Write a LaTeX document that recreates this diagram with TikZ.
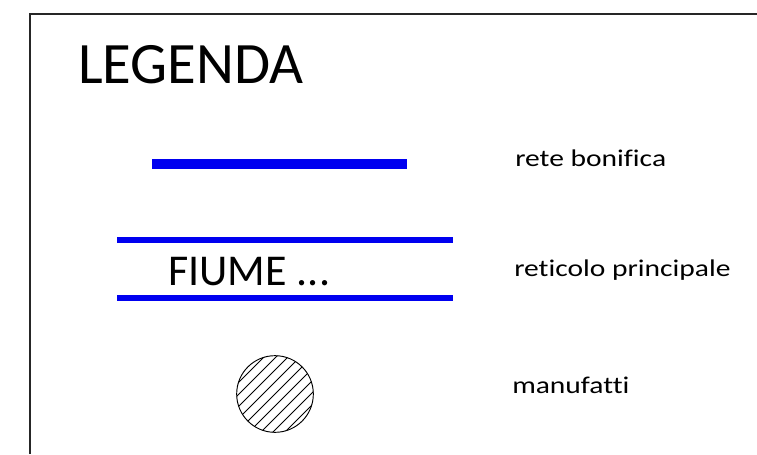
\documentclass[tikz,border=0pt]{standalone}
\usepackage{fontspec}
\setmainfont{Carlito}
\newfontfamily\labelfont[FakeStretch=1.23, Ligatures=NoCommon]{Carlito}
\usepackage{tikz}
\definecolor{bluline}{HTML}{0000F0}
\tikzstyle{frameline} = [line width=0.8pt, black!85]
\tikzstyle{legtext} = [anchor=base west, inner sep=0pt, font=\labelfont\fontsize{18}{20}\selectfont]

\begin{document}
\begin{tikzpicture}[x=0.75pt, y=-0.75pt,
                    bonifica/.style={bluline, line width=7.2pt},
                    fiume/.style={bluline, line width=4.2pt},
                    hatch/.style={line width=0.6pt}]

    \useasboundingbox (0,0) rectangle (757,454);
    % frame
    \draw[frameline] (30,454) -- (30,14) -- (757,14);

    % title
    \node[anchor=base west, inner sep=0pt, font=\fontsize{44}{50}\selectfont] (title) at (78,83) {LEGENDA};

    % rete bonifica
    \draw[bonifica] (152,164) -- (407,164);
    \node[legtext] (lbon) at (515,166.5) {rete bonifica};

    % reticolo principale
    \draw[fiume] (117,240) -- (453,240);
    \draw[fiume] (117,298) -- (453,298);
    \node[anchor=base west, inner sep=0pt, font=\fontsize{33}{38}\selectfont] (fiume) at (168,285) {FIUME ...};
    \node[legtext] (lret) at (514,276.5) {reticolo principale};

    % manufatti
    \node[circle, draw, line width=0.7pt, minimum size=57.5pt, inner sep=0pt] (manuf) at (275,394) {};
    \begin{scope}
        \clip (manuf.center) circle (38.5);
        \foreach \k in {-4,...,4}
            \draw[hatch] ([shift={(\k*6-50,\k*6+50)}]manuf.center) -- ++(100,-100);
    \end{scope}
    \node[legtext] (lman) at (512,393) {manufatti};
\end{tikzpicture}
\end{document}
